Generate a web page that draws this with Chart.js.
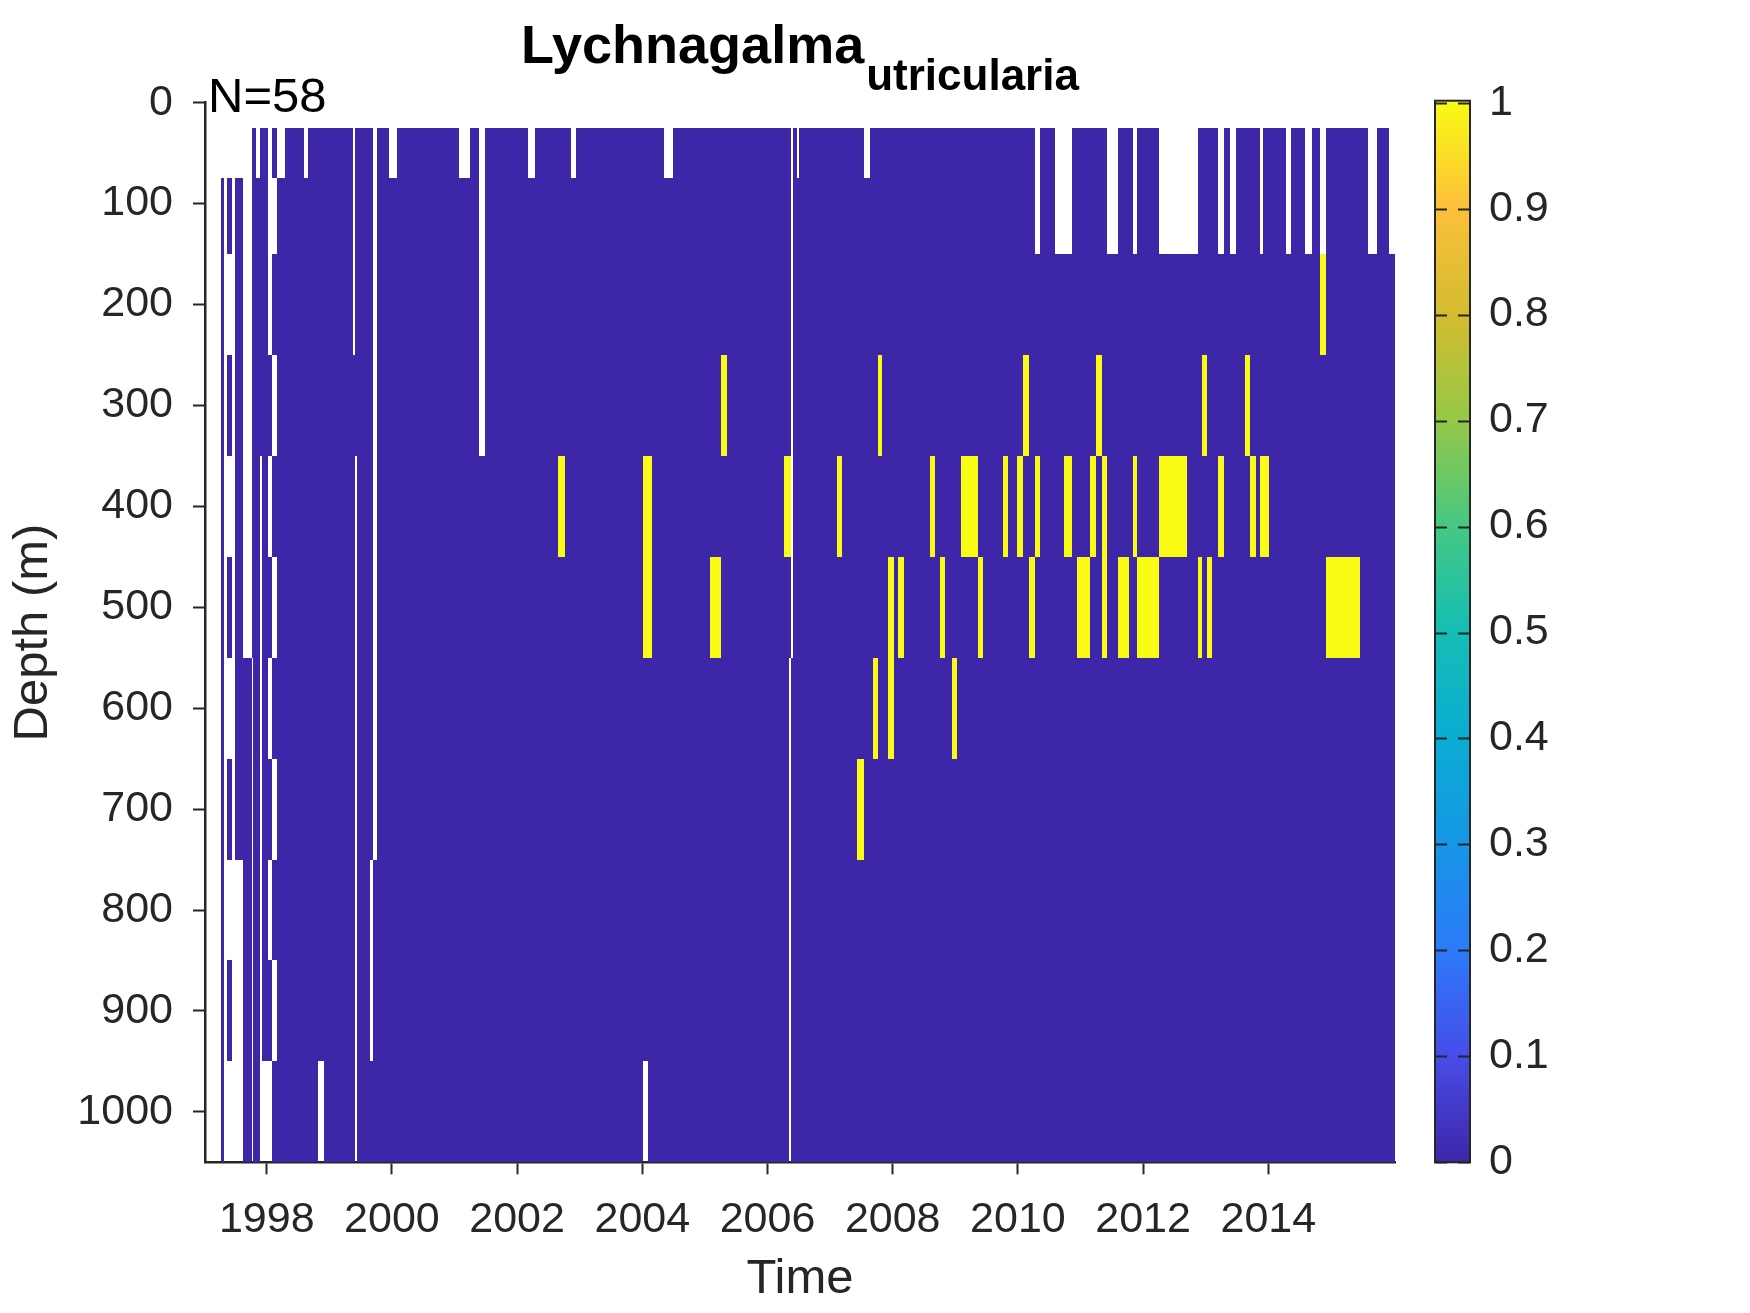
<!DOCTYPE html>
<html>
<head>
<meta charset="utf-8">
<script src="https://cdn.jsdelivr.net/npm/chart.js@4.4.1/dist/chart.umd.min.js"></script>
<style>
  html, body { margin: 0; padding: 0; background: #ffffff; }
  canvas { display: block; }
</style>
</head>
<body>
<canvas id="c" width="1750" height="1313" style="width:1750px;height:1313px"></canvas>
<script>
// ---------------- DATA ----------------
const speciesName = 'Lychnagalma';
const speciesEpithet = 'utricularia';
const sampleCount = 58;

const yearTicks = [1998, 2000, 2002, 2004, 2006, 2008, 2010, 2012, 2014];
const depthTicks = [0, 100, 200, 300, 400, 500, 600, 700, 800, 900, 1000];
const colorbarTicks = [0, 0.1, 0.2, 0.3, 0.4, 0.5, 0.6, 0.7, 0.8, 0.9, 1];

// depth bin edges (m): row i spans depthEdges[i]..depthEdges[i+1]
const depthEdges = [25, 75, 150, 250, 350, 450, 550, 650, 750, 850, 950, 1050];

// sampled time intervals (decimal years) per depth row -> value 0 (absent); gaps = not sampled (NaN)
const row0 = [[1997.770,1997.829],[1997.893,1998.026],[1998.085,1998.165],[1998.292,1998.588],[1998.665,1999.383],[1999.411,1999.693],[1999.762,1999.954],[2000.081,2001.064],[2001.248,2001.391],[2001.487,2002.174],[2002.286,2002.856],[2002.933,2004.347],[2004.490,2006.375],[2006.412,2006.466],[2006.503,2007.546],[2007.633,2010.273],[2010.353,2010.593],[2010.864,2011.423],[2011.604,2011.843],[2011.903,2012.254],[2012.877,2013.197],[2013.288,2013.393],[2013.479,2013.867],[2013.915,2014.278],[2014.363,2014.586],[2014.703,2014.826],[2014.917,2015.593],[2015.737,2015.929]];
const row1 = [[1997.270,1997.323],[1997.361,1997.450],[1997.494,1997.626],[1997.770,1998.026],[1998.165,1999.383],[1999.411,1999.693],[1999.762,2001.391],[2001.487,2006.375],[2006.412,2010.273],[2010.353,2010.593],[2010.864,2011.423],[2011.604,2011.843],[2011.903,2012.254],[2012.877,2013.197],[2013.288,2013.393],[2013.479,2013.867],[2013.915,2014.278],[2014.363,2014.586],[2014.703,2014.826],[2014.917,2015.593],[2015.737,2015.929]];
const row2 = [[1997.270,1997.323],[1997.494,1997.626],[1997.770,1998.026],[1998.085,1999.383],[1999.411,1999.693],[1999.762,2001.391],[2001.487,2006.375],[2006.412,2016.024]];
const row3 = [[1997.270,1997.323],[1997.361,1997.450],[1997.494,1997.626],[1997.770,1998.085],[1998.165,1999.693],[1999.762,2001.391],[2001.487,2006.375],[2006.412,2016.024]];
const row4 = [[1997.270,1997.323],[1997.494,1997.626],[1997.770,1997.893],[1997.925,1998.026],[1998.085,1999.411],[1999.438,1999.693],[1999.762,2006.375],[2006.412,2016.024]];
const row5 = [[1997.270,1997.323],[1997.361,1997.450],[1997.494,1997.626],[1997.770,1997.893],[1997.925,1998.085],[1998.165,1999.411],[1999.438,1999.693],[1999.762,2006.375],[2006.412,2016.024]];
const row6 = [[1997.270,1997.323],[1997.494,1997.761],[1997.787,1997.893],[1997.925,1998.026],[1998.085,1999.411],[1999.438,1999.693],[1999.762,2006.345],[2006.375,2016.024]];
const row7 = [[1997.270,1997.323],[1997.361,1997.450],[1997.494,1997.761],[1997.787,1997.893],[1997.925,1998.085],[1998.165,1999.411],[1999.438,1999.693],[1999.762,2006.345],[2006.375,2016.024]];
const row8 = [[1997.270,1997.323],[1997.626,1997.761],[1997.787,1997.893],[1997.925,1998.026],[1998.085,1999.411],[1999.438,1999.650],[1999.693,2006.345],[2006.375,2016.024]];
const row9 = [[1997.270,1997.323],[1997.361,1997.450],[1997.626,1997.761],[1997.787,1997.893],[1997.925,1998.085],[1998.165,1999.411],[1999.438,1999.650],[1999.693,2006.345],[2006.375,2016.024]];
const row10 = [[1997.270,1997.323],[1997.626,1997.761],[1997.787,1997.893],[1998.085,1998.824],[1998.915,1999.411],[1999.438,2004.011],[2004.086,2006.345],[2006.375,2016.024]];
const sampledRows = [row0, row1, row2, row3, row4, row5, row6, row7, row8, row9, row10];

// cells where the species was present (value 1): [row, start year, end year]
const presentCells = [
  [2, 2014.826, 2014.917],
  [3, 2005.252, 2005.353], [3, 2007.765, 2007.829], [3, 2010.077, 2010.173], [3, 2011.248, 2011.344], [3, 2012.946, 2013.021], [3, 2013.633, 2013.712],
  [4, 2002.649, 2002.765], [4, 2004.011, 2004.160], [4, 2006.268, 2006.375], [4, 2007.104, 2007.184], [4, 2008.596, 2008.676], [4, 2009.091, 2009.363],
  [4, 2009.757, 2009.847], [4, 2009.981, 2010.077], [4, 2010.273, 2010.353], [4, 2010.736, 2010.864], [4, 2011.152, 2011.248], [4, 2011.344, 2011.423],
  [4, 2011.843, 2011.903], [4, 2012.254, 2012.701], [4, 2013.197, 2013.288], [4, 2013.712, 2013.808], [4, 2013.867, 2014.011],
  [5, 2004.011, 2004.160], [5, 2005.081, 2005.262], [5, 2007.925, 2008.021], [5, 2008.085, 2008.181], [5, 2008.757, 2008.843], [5, 2009.358, 2009.443],
  [5, 2010.177, 2010.273], [5, 2010.944, 2011.152], [5, 2011.344, 2011.423], [5, 2011.604, 2011.775], [5, 2011.903, 2012.254], [5, 2012.877, 2012.941],
  [5, 2013.021, 2013.101], [5, 2014.917, 2015.465],
  [6, 2007.690, 2007.765], [6, 2007.925, 2008.021], [6, 2008.946, 2009.025],
  [7, 2007.425, 2007.540]
];

// ---------------- STYLE ----------------
const FONT = '"Liberation Sans", Arial, Helvetica, sans-serif';
const AXIS = '#262626';
const PARULA = [
  [0.0, [62, 38, 168]], [0.1, [70, 77, 232]], [0.2, [45, 122, 250]], [0.3, [22, 150, 230]],
  [0.4, [10, 173, 210]], [0.5, [20, 190, 180]], [0.6, [70, 200, 130]], [0.7, [150, 200, 70]],
  [0.8, [212, 188, 48]], [0.9, [253, 192, 58]], [1.0, [249, 251, 21]]
];
function parula(v) {
  for (let i = 1; i < PARULA.length; i++) {
    if (v <= PARULA[i][0]) {
      const [a, ca] = PARULA[i - 1], [b, cb] = PARULA[i];
      const t = (v - a) / (b - a);
      const c = ca.map((k, j) => Math.round(k + (cb[j] - k) * t));
      return `rgb(${c[0]},${c[1]},${c[2]})`;
    }
  }
  const c = PARULA[PARULA.length - 1][1];
  return `rgb(${c[0]},${c[1]},${c[2]})`;
}

// build cell records from the arrays
const cells = [];
sampledRows.forEach((segs, r) => segs.forEach(([t0, t1]) =>
  cells.push({ x: t0, x2: t1, y: depthEdges[r], y2: depthEdges[r + 1], v: 0 })));
presentCells.forEach(([r, t0, t1]) =>
  cells.push({ x: t0, x2: t1, y: depthEdges[r], y2: depthEdges[r + 1], v: 1 }));

const bgPlugin = {
  id: 'bg',
  beforeDraw(chart) {
    const ctx = chart.ctx;
    ctx.save(); ctx.fillStyle = '#ffffff';
    ctx.fillRect(0, 0, chart.width, chart.height); ctx.restore();
  }
};

const cellPlugin = {
  id: 'cells',
  beforeDatasetsDraw(chart) {
    const { ctx, chartArea: a, scales: { x, y } } = chart;
    ctx.save();
    ctx.beginPath(); ctx.rect(a.left, a.top - 1, a.right - a.left + 1, a.bottom - a.top + 2); ctx.clip();
    chart.data.datasets[0].data.forEach(c => {
      const x0 = Math.round(x.getPixelForValue(c.x)), x1 = Math.round(x.getPixelForValue(c.x2));
      const y0 = Math.round(y.getPixelForValue(c.y)), y1 = Math.round(y.getPixelForValue(c.y2));
      ctx.fillStyle = parula(c.v);
      ctx.fillRect(x0, y0, Math.max(1, x1 - x0), y1 - y0);
    });
    ctx.restore();
  }
};

const decorPlugin = {
  id: 'decor',
  afterDraw(chart) {
    const { ctx, chartArea: a } = chart;
    const cb = chart.scales.cb;
    ctx.save();
    // colorbar
    const top = cb.getPixelForValue(1) - 2, bot = cb.getPixelForValue(0);
    const L = a.right + 40, W = 35;
    const g = ctx.createLinearGradient(0, bot, 0, top);
    PARULA.forEach(([s]) => g.addColorStop(s, parula(s)));
    ctx.fillStyle = g;
    ctx.fillRect(L, top, W, bot - top);
    ctx.strokeStyle = AXIS; ctx.lineWidth = 2;
    ctx.strokeRect(L, top, W, bot - top);
    ctx.lineWidth = 2;
    colorbarTicks.forEach(v => {
      const py = Math.round(cb.getPixelForValue(v)) + 0.5;
      ctx.beginPath();
      ctx.moveTo(L, py); ctx.lineTo(L + 12, py);
      ctx.moveTo(L + W - 12, py); ctx.lineTo(L + W, py);
      ctx.stroke();
    });
    // title with subscript
    ctx.fillStyle = '#000000';
    ctx.textAlign = 'left'; ctx.textBaseline = 'alphabetic';
    ctx.font = `bold 54px ${FONT}`;
    const w1 = ctx.measureText(speciesName).width;
    ctx.font = `bold 44px ${FONT}`;
    const w2 = ctx.measureText(speciesEpithet).width;
    const cx = (a.left + a.right) / 2;
    const sx = cx - (w1 + w2 + 2) / 2;
    ctx.font = `bold 54px ${FONT}`;
    ctx.fillText(speciesName, sx, a.top - 39.5);
    ctx.font = `bold 44px ${FONT}`;
    ctx.fillText(speciesEpithet, sx + w1 + 2, a.top - 12.7);
    // sample count
    ctx.font = `49px ${FONT}`;
    ctx.fillText('N=' + sampleCount, a.left + 3, a.top + 9);
    ctx.restore();
  }
};

const tickFont = { family: FONT, size: 43 };
const labelFont = { family: FONT, size: 49 };

new Chart(document.getElementById('c'), {
  type: 'scatter',
  data: {
    datasets: [{
      data: cells,
      pointRadius: 0,
      pointHoverRadius: 0,
      showLine: false
    }]
  },
  options: {
    responsive: false,
    devicePixelRatio: 1,
    animation: false,
    events: [],
    layout: { autoPadding: false, padding: { top: 102.7, left: 0, right: 0, bottom: 0 } },
    plugins: { legend: { display: false }, tooltip: { enabled: false }, title: { display: false } },
    scales: {
      x: {
        type: 'linear', position: 'bottom', min: 1997.014, max: 2016.024,
        afterBuildTicks: s => { s.ticks = yearTicks.map(v => ({ value: v })); },
        afterFit: s => { s.height = 150.7; },
        ticks: { autoSkip: false, maxRotation: 0, minRotation: 0, padding: 20, color: AXIS, font: tickFont, callback: v => String(v) },
        grid: { display: true, drawOnChartArea: false, drawTicks: true, tickLength: 12, tickWidth: 2, tickColor: AXIS },
        border: { display: true, color: AXIS, width: 2.5 },
        title: { display: true, text: 'Time', color: AXIS, font: labelFont, padding: { top: 0, bottom: 4 } }
      },
      y: {
        type: 'linear', position: 'left', reverse: true, min: 0, max: 1050,
        afterBuildTicks: s => { s.ticks = depthTicks.map(v => ({ value: v })); },
        afterFit: s => { s.width = 205; },
        ticks: { autoSkip: false, padding: 20, color: AXIS, font: tickFont, callback: v => String(v) },
        grid: { display: true, drawOnChartArea: false, drawTicks: true, tickLength: 12, tickWidth: 2, tickColor: AXIS },
        border: { display: true, color: AXIS, width: 2.5 },
        title: { display: true, text: 'Depth (m)', color: AXIS, font: labelFont, padding: { top: 4, bottom: 0 } }
      },
      cb: {
        type: 'linear', position: 'right', min: 0, max: 1,
        afterBuildTicks: s => { s.ticks = colorbarTicks.map(v => ({ value: v })); },
        afterFit: s => { s.width = 355; },
        ticks: { autoSkip: false, padding: 4, color: AXIS, font: tickFont, callback: v => String(Number(v.toFixed(1))) },
        grid: { display: true, drawOnChartArea: false, drawTicks: true, tickLength: 90, tickColor: 'rgba(0,0,0,0)' },
        border: { display: false }
      }
    }
  },
  plugins: [bgPlugin, cellPlugin, decorPlugin]
});
</script>
</body>
</html>
